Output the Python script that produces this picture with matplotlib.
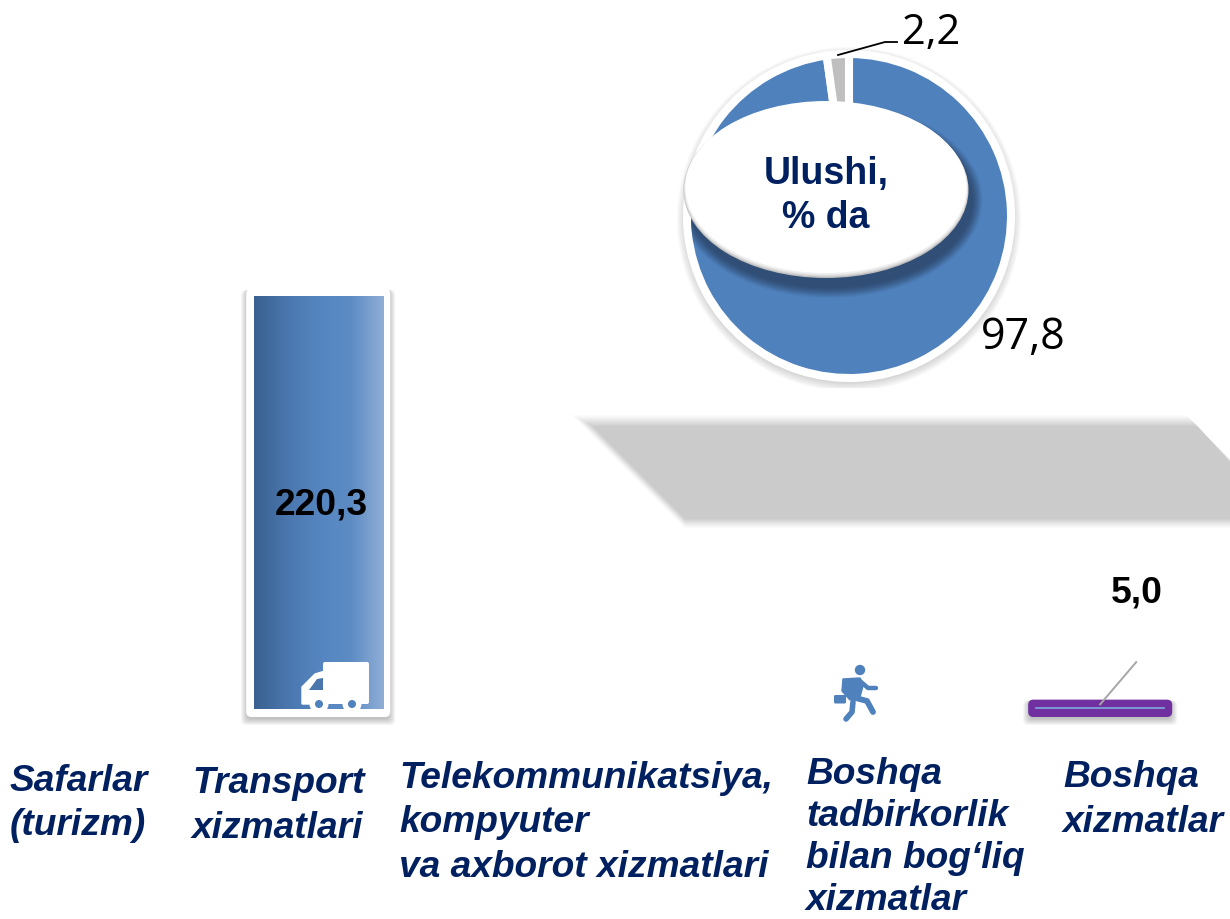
import numpy as np
import matplotlib
matplotlib.use("Agg")
import matplotlib.pyplot as plt
from matplotlib.colors import LinearSegmentedColormap
from matplotlib.patches import Circle, Ellipse, FancyBboxPatch, Polygon

W, H = 1230, 920

categories = ["Safarlar\n(turizm)", "Transport\nxizmatlari",
              "Telekommunikatsiya,\nkompyuter\nva axborot xizmatlari",
              "Boshqa\ntadbirkorlik\nbilan bog‘liq\nxizmatlar", "Boshqa\nxizmatlar"]
label_x = [10, 192, 399, 806, 1063]
label_baseline = [791, 793.5, 788, 784, 787.5]
label_step = [44.5, 44.5, 44.5, 42, 44.5]
values = [np.nan, 220.3, np.nan, np.nan, 5.0]

share_values = [97.8, 2.2]
share_colors = ["#4f81bd", "#bfbfbf"]

NAVY = "#002060"
BLUE = "#4f81bd"
PURPLE = "#7030a0"


def comma(v):
    return f"{v:.1f}".replace(".", ",")


fig = plt.figure(figsize=(W / 100, H / 100), dpi=100, facecolor="white")

# background layer in pixel coordinates
ax_bg = fig.add_axes([0, 0, 1, 1])
ax_bg.set_xlim(0, W)
ax_bg.set_ylim(H, 0)
ax_bg.axis("off")
# grey band, soft edges from nested polygons
for s, col in zip(np.linspace(0, 1, 8), ["#fbfbfb", "#f5f5f5", "#eeeeee", "#e7e7e7",
                                          "#e0e0e0", "#d8d8d8", "#d1d1d1", "#cbcbcb"]):
    top = 416 + 11 * s
    bot = 529 - 9 * s
    left_top = 572 + 9 * s + (top - 416) * 1.03
    left_bot = left_top + (bot - top) * 1.0
    ax_bg.add_patch(Polygon([(left_top, top), (1186 + (top - 416), top),
                             (1240, 470 + 4 * s), (1240, bot), (left_bot, bot)],
                            facecolor=col, edgecolor="none"))

# bars, same px per unit as the reference
ax_bar = fig.add_axes([0, 0, 1, 1], facecolor="none")
base_px = 710
px_unit = 413 / 220.3
cat_px = 260.67
first_px = 57.5
ax_bar.set_xlim(-first_px / cat_px, (W - first_px) / cat_px)
ax_bar.set_ylim(-(H - base_px) / px_unit, base_px / px_unit)
ax_bar.axis("off")

x = np.arange(len(categories))
bar_w = 129 / cat_px
frame_w = 144 / cat_px

# frames and shadows behind the two visible bars
for i, v, col, pad_top, pad_bot in [(1, values[1], "white", 7, 8), (4, values[4], PURPLE, 0, 8)]:
    y0 = -pad_bot / px_unit
    hgt = v + (pad_top + pad_bot) / px_unit
    for grow in np.linspace(6, 0, 7):
        ax_bar.add_patch(FancyBboxPatch((x[i] - frame_w / 2 - (grow - 1) / cat_px, y0 - (2 + grow) / px_unit),
                                        frame_w + 2 * (grow - 1) / cat_px, hgt + (1 + grow) / px_unit,
                                        boxstyle="round,pad=0,rounding_size=0.02",
                                        mutation_aspect=cat_px / px_unit,
                                        facecolor="#444444", edgecolor="none", alpha=0.05))
    ax_bar.add_patch(FancyBboxPatch((x[i] - frame_w / 2, y0), frame_w, hgt,
                                    boxstyle="round,pad=0,rounding_size=0.02",
                                    mutation_aspect=cat_px / px_unit,
                                    facecolor=col, edgecolor="none"))

bars = ax_bar.bar(x, np.nan_to_num(values), width=bar_w, color=[BLUE, BLUE, BLUE, BLUE, PURPLE],
                  edgecolor="none")

# horizontal gradient inside the tall bar
grad = LinearSegmentedColormap.from_list("bar", ["#3a6190", "#4a76ad", "#5585c0", "#5d8cc4", "#90aed6"])
b = bars[1]
img = ax_bar.imshow(np.linspace(0, 1, 200).reshape(1, -1), cmap=grad, aspect="auto",
                    extent=[b.get_x(), b.get_x() + b.get_width(), 0, b.get_height()], zorder=3)
img.set_clip_path(b)
ax_bar.set_xlim(-first_px / cat_px, (W - first_px) / cat_px)
ax_bar.set_ylim(-(H - base_px) / px_unit, base_px / px_unit)

# thin line in the purple frame
ax_bar.plot([x[4] - 64 / cat_px, x[4] + 64 / cat_px], [0.5, 0.5], color="#7f9fd8", lw=1.3, zorder=4)
ax_bar.plot([x[4], x[4] + 36 / cat_px], [2.5, 25], color="#a6a6a6", lw=1.4, zorder=5)

ax_bar.text(x[1] + 3 / cat_px, values[1] * 0.5 - 1, comma(values[1]), ha="center", va="center",
            fontsize=26.8, fontweight="bold", family="Liberation Sans", color="black", zorder=6)
ax_bar.text(x[4] + 37 / cat_px, 62.4, comma(values[4]), ha="center", va="center",
            fontsize=26.8, fontweight="bold", family="Liberation Sans", color="black", zorder=6)

# donut
cx, cy, half = 849, 217, 172
ax_pie = fig.add_axes([(cx - half) / W, 1 - (cy + half) / H, 2 * half / W, 2 * half / H], facecolor="none")
for grow in np.linspace(8, 0, 8):
    ax_pie.add_patch(Circle((0, -3), 164 + grow, facecolor="#555555", edgecolor="none", alpha=0.03))
ax_pie.pie(share_values, colors=share_colors, startangle=90 + share_values[1] * 3.6, counterclock=True,
           radius=162, wedgeprops={"edgecolor": "white", "linewidth": 5.8})
ax_pie.set_xlim(-half, half)
ax_pie.set_ylim(-half, half)
ax_pie.set_aspect("equal")
ax_pie.axis("off")

# top layer in pixels: ellipse, icons, labels
ax = fig.add_axes([0, 0, 1, 1], facecolor="none")
ax.set_xlim(0, W)
ax.set_ylim(H, 0)
ax.axis("off")

clip = Circle((cx, cy), 158, transform=ax.transData, facecolor="none", edgecolor="none")
ax.add_patch(clip)
ex, ey, erx, ery = 826, 190, 142.5, 88
for grow, a in zip(np.linspace(10, 0, 10), np.linspace(0.08, 0.3, 10)):
    p = Ellipse((ex + 4, ey + 11), 2 * (erx + grow), 2 * (ery + grow), facecolor="#2f4a70",
                edgecolor="none", alpha=a)
    ax.add_patch(p)
    p.set_clip_path(clip)
for shrink, col in [(0, "#bdbdbd"), (1, "#d2d2d2"), (2, "#e3e3e3"), (3, "#f0f0f0")]:
    ax.add_patch(Ellipse((ex, ey + 1 - shrink * 0.5), 2 * (erx - shrink * 0.4), 2 * (ery - shrink * 0.7),
                         facecolor=col, edgecolor="none"))
ax.add_patch(Ellipse((ex, ey - 2), 2 * (erx - 2), 2 * (ery - 2), facecolor="white", edgecolor="none"))
ax.text(826, 196, "Ulushi,\n% da", ha="center", va="center", fontsize=27, fontweight="bold",
        family="Liberation Sans", color=NAVY, linespacing=1.3)

ax.plot([838, 885, 897], [56, 43, 43], color="black", lw=1.3)
ax.text(931, 33, comma(share_values[1]), ha="center", va="center", fontsize=30,
        family="Open Sans", color="black")
ax.text(1023, 338, comma(share_values[0]), ha="center", va="center", fontsize=31,
        family="Open Sans", color="black")

# truck icon
ax.add_patch(FancyBboxPatch((323, 663), 46, 42, boxstyle="round,pad=0,rounding_size=2",
                            facecolor="white", edgecolor="none", zorder=5))
ax.add_patch(Polygon([(302, 705), (302, 688), (315, 675), (325, 672), (325, 705)],
                     facecolor="white", edgecolor="white", lw=1, zorder=5))
ax.add_patch(Polygon([(309, 691), (323, 691), (323, 679), (317, 680)], facecolor="#4a76ad",
                     edgecolor="none", zorder=6))
for wx in (319, 352):
    ax.add_patch(Circle((wx, 705), 9.5, facecolor="white", edgecolor="none", zorder=5))
    ax.add_patch(Circle((wx, 705), 4, facecolor="#4f81bd", edgecolor="none", zorder=6))

# runner icon
ax.add_patch(Circle((860, 671), 5.2, facecolor=BLUE, edgecolor="none"))
ax.add_patch(Polygon([(843, 680), (860, 679), (863, 687), (860, 698), (850, 701), (842, 692)],
                     facecolor=BLUE, edgecolor=BLUE, lw=1, joinstyle="round"))
for xs, ys, lw in [([860, 868, 876], [682, 689, 689], 3.2),
                   ([852, 867, 873], [698, 702, 713], 4.2),
                   ([853, 852, 846], [703, 713, 720], 4.0)]:
    ax.plot(xs, ys, color=BLUE, lw=lw, solid_capstyle="round", solid_joinstyle="round")
ax.add_patch(FancyBboxPatch((834, 696), 12, 8.5, boxstyle="round,pad=0,rounding_size=1.5",
                            facecolor=BLUE, edgecolor="none"))

# category labels, one text per line so the bottom one stays inside the picture
for name, lx, ly, step in zip(categories, label_x, label_baseline, label_step):
    for n, line in enumerate(name.split("\n")):
        ax.text(lx, ly + step * n, line, ha="left", va="baseline", fontsize=26.7, fontstyle="italic",
                fontweight="bold", family="Liberation Sans", color=NAVY)

fig.savefig("out.png", dpi=100)
